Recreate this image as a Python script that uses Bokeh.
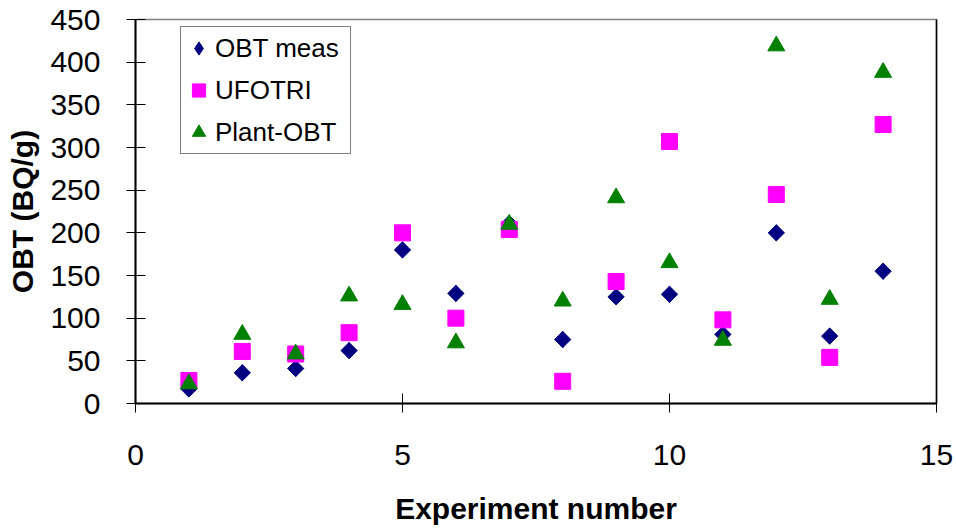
import numpy as np
from bokeh.plotting import figure
from bokeh.models import (Range1d, LinearAxis, FixedTicker, Legend, LegendItem)
from bokeh.embed import file_html
from bokeh.resources import INLINE

# Experiment numbers and measured / modelled OBT concentrations (Bq/g)
experiment = [1, 2, 3, 4, 5, 6, 7, 8, 9, 10, 11, 12, 13, 14]
obt_meas = [17, 36, 41, 62, 180, 129, 211, 75, 125, 128, 81, 200, 79, 155]
ufotri = [27, 61, 58, 83, 200, 100, 204, 26, 143, 307, 98, 245, 54, 327]
plant_obt = [23, 81, 58, 126, 116, 71, 210, 120, 241, 165, 74, 419, 122, 388]

x_ticks = [0, 5, 10, 15]
y_ticks = [0, 50, 100, 150, 200, 250, 300, 350, 400, 450]

FONT = "Liberation Sans"

p = figure(width=956, height=529, output_backend="svg", toolbar_location=None,
           x_range=Range1d(0, 15), y_range=Range1d(0, 450),
           min_border_left=135, min_border_right=20,
           min_border_top=19, min_border_bottom=126)
p.background_fill_color = "white"
p.border_fill_color = "white"
p.grid.visible = False
p.outline_line_color = "#808080"
p.outline_line_width = 1.5

for ax in (p.xaxis[0], p.yaxis[0]):
    ax.axis_line_color = "black"
    ax.axis_line_width = 2
    ax.major_tick_line_color = "black"
    ax.major_tick_line_width = 1
    ax.major_tick_in = 10
    ax.major_tick_out = 9
    ax.minor_tick_line_color = None
    ax.major_label_text_font = FONT
    ax.major_label_text_font_size = "30px"
    ax.major_label_text_color = "black"
    ax.axis_label_text_font = FONT
    ax.axis_label_text_font_style = "bold"
    ax.axis_label_text_color = "black"

p.xaxis.ticker = FixedTicker(ticks=x_ticks)
p.yaxis.ticker = FixedTicker(ticks=y_ticks)
p.xaxis.axis_label = "Experiment number"
p.yaxis.axis_label = "OBT (BQ/g)"
p.xaxis.axis_label_text_font_size = "30px"
p.yaxis.axis_label_text_font_size = "30px"
p.xaxis.major_label_standoff = 32
p.xaxis.axis_label_standoff = 24
p.yaxis.major_label_standoff = 26
p.yaxis.axis_label_standoff = 8

# right edge of the plot area drawn as a bare axis line
right = LinearAxis(ticker=FixedTicker(ticks=[]), axis_line_color="black",
                   axis_line_width=1.5, major_tick_line_color=None,
                   minor_tick_line_color=None, major_label_text_font_size="0px")
p.add_layout(right, "right")

# OBT meas: a plain diamond underneath carries the legend icon,
# the rotated square on top gives the even-sided diamond in the plot
r_meas_key = p.scatter(experiment, obt_meas, marker="diamond", size=16,
                       fill_color="#000080", line_color="#000080")
p.scatter(experiment, obt_meas, marker="square", size=11.5,
          angle=np.pi / 4, fill_color="#000080", line_color="#000080")
r_ufo = p.scatter(experiment, ufotri, marker="square", size=16,
                  fill_color="#FF00FF", line_color="#FF00FF")
r_plant = p.scatter(experiment, plant_obt, marker="triangle", size=17,
                    fill_color="#008000", line_color="#008000")

legend = Legend(items=[LegendItem(label="OBT meas", renderers=[r_meas_key]),
                       LegendItem(label="UFOTRI", renderers=[r_ufo]),
                       LegendItem(label="Plant-OBT", renderers=[r_plant])],
                location=(45, 249))
legend.label_text_font = FONT
legend.label_text_font_size = "26px"
legend.label_text_color = "black"
legend.label_height = 40
legend.glyph_height = 40
legend.glyph_width = 33
legend.label_width = 134
legend.label_standoff = 0
legend.spacing = 2
legend.padding = 1
legend.margin = 0
legend.border_line_color = "black"
legend.border_line_width = 1
legend.background_fill_color = "white"
p.add_layout(legend, "center")

open("out.html", "w").write(file_html(p, INLINE))
